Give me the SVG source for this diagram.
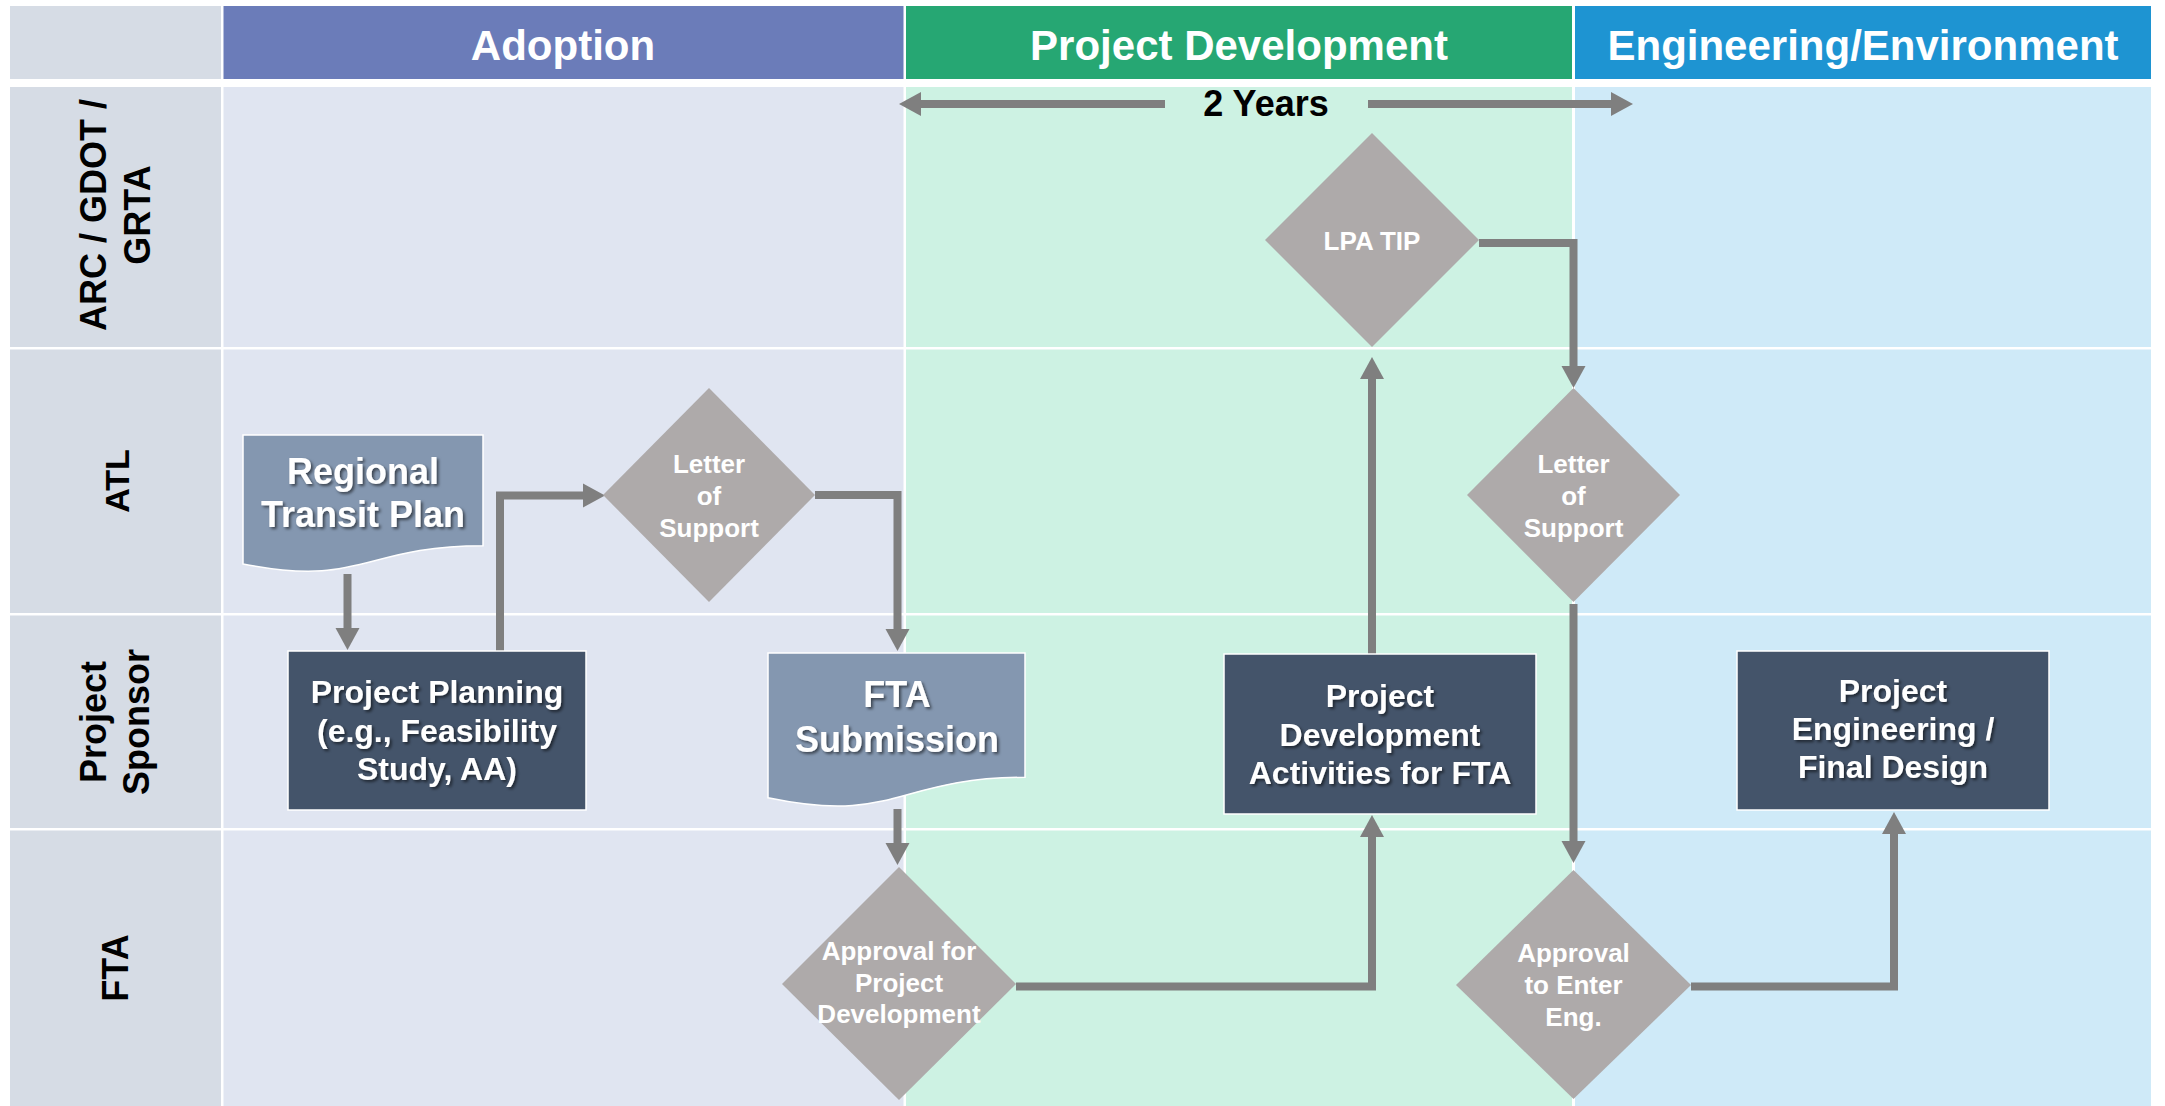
<svg xmlns="http://www.w3.org/2000/svg" width="2165" height="1106" viewBox="0 0 2165 1106">
<defs>
<style>
text{font-family:"Liberation Sans",Arial,sans-serif;font-weight:bold;}
.lbl{fill:#d6dce5;}
.c1{fill:#e0e5f1;}
.c2{fill:#cdf2e3;}
.c3{fill:#cfeaf8;}
.hd{fill:#fff;font-size:42px;text-anchor:middle;}
.lane{fill:#000;font-size:36px;text-anchor:middle;}
.box{fill:#44546a;stroke:#fff;stroke-width:1.5;}
.doc{fill:#8497b0;stroke:#fff;stroke-width:1.5;}
.dia{fill:#aeaaaa;}
.bt{fill:#fff;font-size:32px;text-anchor:middle;filter:url(#ts);}
.dt{fill:#fff;font-size:36px;text-anchor:middle;filter:url(#ts);}
.ds{fill:#fff;font-size:26px;text-anchor:middle;}
.con{fill:none;stroke:#7f7f7f;stroke-width:8;stroke-linejoin:miter;marker-end:url(#ah);}
</style>
<marker id="ah" markerUnits="userSpaceOnUse" markerWidth="22" markerHeight="24" refX="0" refY="12" orient="auto" overflow="visible">
<path d="M0,0 L22,12 L0,24 Z" fill="#7f7f7f"/>
</marker>
<filter id="ts" x="-10%" y="-20%" width="125%" height="150%">
<feDropShadow dx="2" dy="2" stdDeviation="1.5" flood-color="#000" flood-opacity="0.55"/>
</filter>
</defs>
<rect width="2165" height="1106" fill="#fff"/>
<g id="grid">
<rect class="lbl" x="10" y="6" width="211" height="73"/>
<rect x="223.5" y="6" width="680" height="73" fill="#6b7cb9"/>
<rect x="906" y="6" width="666" height="73" fill="#26a773"/>
<rect x="1575" y="6" width="576" height="73" fill="#1e94d2"/>
<rect class="lbl" x="10" y="87" width="211" height="260"/>
<rect class="c1" x="223.5" y="87" width="680" height="260"/>
<rect class="c2" x="906" y="87" width="666" height="260"/>
<rect class="c3" x="1575" y="87" width="576" height="260"/>
<rect class="lbl" x="10" y="349.5" width="211" height="263.5"/>
<rect class="c1" x="223.5" y="349.5" width="680" height="263.5"/>
<rect class="c2" x="906" y="349.5" width="666" height="263.5"/>
<rect class="c3" x="1575" y="349.5" width="576" height="263.5"/>
<rect class="lbl" x="10" y="615.5" width="211" height="212.5"/>
<rect class="c1" x="223.5" y="615.5" width="680" height="212.5"/>
<rect class="c2" x="906" y="615.5" width="666" height="212.5"/>
<rect class="c3" x="1575" y="615.5" width="576" height="212.5"/>
<rect class="lbl" x="10" y="830.5" width="211" height="276"/>
<rect class="c1" x="223.5" y="830.5" width="680" height="276"/>
<rect class="c2" x="906" y="830.5" width="666" height="276"/>
<rect class="c3" x="1575" y="830.5" width="576" height="276"/>
</g>
<g id="headers">
<text class="hd" x="563" y="60">Adoption</text>
<text class="hd" x="1239" y="60">Project Development</text>
<text class="hd" x="1863" y="60">Engineering/Environment</text>
</g>
<g id="lanes">
<g transform="translate(116,215) rotate(-90)"><text class="lane" x="0" y="-10">ARC / GDOT /</text><text class="lane" x="0" y="34">GRTA</text></g>
<g transform="translate(116,481) rotate(-90)"><text class="lane" x="0" y="13" style="font-size:34px">ATL</text></g>
<g transform="translate(116,722) rotate(-90)"><text class="lane" x="0" y="-10">Project</text><text class="lane" x="0" y="33">Sponsor</text></g>
<g transform="translate(116,968) rotate(-90)"><text class="lane" x="0" y="12">FTA</text></g>
</g>
<g id="timeline">
<text x="1266" y="116" style="font-size:36px;text-anchor:middle;fill:#000">2 Years</text>
</g>
<g id="connectors">
<path class="con" d="M1165,104 H921"/>
<path class="con" d="M1368,104 H1611"/>
<path class="con" d="M347.5,574 V628"/>
<path class="con" d="M500,651 V495.5 H583"/>
<path class="con" d="M815,495 H897.5 V629"/>
<path class="con" d="M897.5,809 V843"/>
<path class="con" d="M1016,986.5 H1372 V837"/>
<path class="con" d="M1372,654 V379"/>
<path class="con" d="M1479,243 H1573.5 V366"/>
<path class="con" d="M1573.5,604 V841"/>
<path class="con" d="M1691,986.5 H1894 V834"/>
</g>
<g id="rtp">
<path class="doc" d="M243,435 H483 V545.7 C363,545.7 363,587.8 243,563.9 Z"/>
<text class="dt" x="363" y="484">Regional</text>
<text class="dt" x="363" y="527">Transit Plan</text>
</g>
<g id="project-planning">
<rect class="box" x="288" y="651" width="298" height="159"/>
<text class="bt" x="437" y="703">Project Planning</text>
<text class="bt" x="437" y="741.5">(e.g., Feasibility</text>
<text class="bt" x="437" y="780">Study, AA)</text>
</g>
<g id="letter-support-1">
<polygon class="dia" points="709,388 815,495 709,602 603,495"/>
<text class="ds" x="709" y="473">Letter</text>
<text class="ds" x="709" y="505">of</text>
<text class="ds" x="709" y="537">Support</text>
</g>
<g id="fta-submission">
<path class="doc" d="M768,653 H1025 V777.3 C896.5,777.3 896.5,824.7 768,797.8 Z"/>
<text class="dt" x="897" y="707">FTA</text>
<text class="dt" x="897" y="752">Submission</text>
</g>
<g id="approval-pd">
<polygon class="dia" points="899,867 1016,984 899,1100 782,984"/>
<text class="ds" x="899" y="960">Approval for</text>
<text class="ds" x="899" y="992">Project</text>
<text class="ds" x="899" y="1023">Development</text>
</g>
<g id="pda">
<rect class="box" x="1224" y="654" width="312" height="160"/>
<text class="bt" x="1380" y="707">Project</text>
<text class="bt" x="1380" y="745.5">Development</text>
<text class="bt" x="1380" y="784">Activities for FTA</text>
</g>
<g id="lpa-tip">
<polygon class="dia" points="1372,133 1479,240 1372,347 1265,240"/>
<text class="ds" x="1372" y="250">LPA TIP</text>
</g>
<g id="letter-support-2">
<polygon class="dia" points="1573.5,388 1680,495 1573.5,602 1467,495"/>
<text class="ds" x="1573.5" y="473">Letter</text>
<text class="ds" x="1573.5" y="505">of</text>
<text class="ds" x="1573.5" y="537">Support</text>
</g>
<g id="approval-eng">
<polygon class="dia" points="1573.5,870 1691,985 1573.5,1099 1456,985"/>
<text class="ds" x="1573.5" y="962">Approval</text>
<text class="ds" x="1573.5" y="994">to Enter</text>
<text class="ds" x="1573.5" y="1026">Eng.</text>
</g>
<g id="pefd">
<rect class="box" x="1737" y="651" width="312" height="159"/>
<text class="bt" x="1893" y="702">Project</text>
<text class="bt" x="1893" y="740">Engineering /</text>
<text class="bt" x="1893" y="778">Final Design</text>
</g>
</svg>
